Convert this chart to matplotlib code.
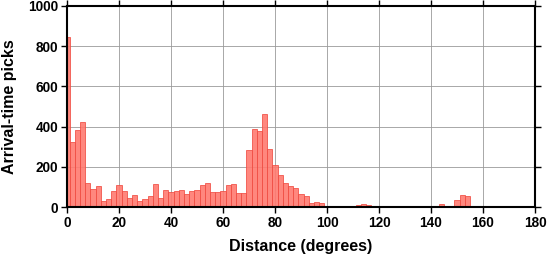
import matplotlib
matplotlib.use("Agg")
import matplotlib.pyplot as plt

plt.rcParams["font.family"] = ["Liberation Sans", "DejaVu Sans"]
plt.rcParams["font.weight"] = "bold"

# histogram, 2-degree bins centred on even degrees
distance = list(range(0, 182, 2))
picks = [845, 322, 382, 421, 121, 91, 106, 31, 41, 81,
         111, 81, 46, 60, 31, 41, 56, 116, 46, 84,
         76, 79, 84, 66, 79, 84, 111, 121, 74, 74,
         79, 111, 116, 71, 71, 283, 388, 380, 463, 288,
         210, 160, 121, 104, 96, 66, 56, 21, 26, 20,
         7, 2, 2, 7, 2, 5, 10, 17, 10, 1,
         0, 2, 1, 0, 0, 0, 7, 2, 0, 0,
         2, 0, 17, 7, 1, 36, 60, 56, 2, 2,
         2, 0, 0, 0, 0, 0, 1, 0, 1, 0,
         0]

fig = plt.figure(figsize=(5.47, 2.58), dpi=100)
ax = fig.add_axes([0.1225, 0.1965, 0.8555, 0.7815])

ax.bar(distance, picks, width=2, color="#ff7a70", alpha=0.9,
       edgecolor="#f04a40", linewidth=0.6, zorder=2)

ax.set_xlim(0, 180)
ax.set_ylim(0, 1000)
ax.set_xticks(range(0, 181, 20))
ax.set_yticks(range(0, 1001, 200))
ax.grid(True, color="#9a9a9a", linewidth=0.6, zorder=0)
ax.set_axisbelow(True)

for s in ax.spines.values():
    s.set_linewidth(1.5)
    s.set_zorder(5)
ax.tick_params(direction="out", top=True, right=True, length=4.5, width=1,
               labelsize=9.8, pad=2)
for lab in ax.get_xticklabels() + ax.get_yticklabels():
    lab.set_fontweight("bold")

ax.set_xlabel("Distance (degrees)", fontsize=11.5, fontweight="bold", labelpad=6)
ax.set_ylabel("Arrival-time picks", fontsize=11.5, fontweight="bold", labelpad=8)

fig.savefig("out.png", dpi=100)
